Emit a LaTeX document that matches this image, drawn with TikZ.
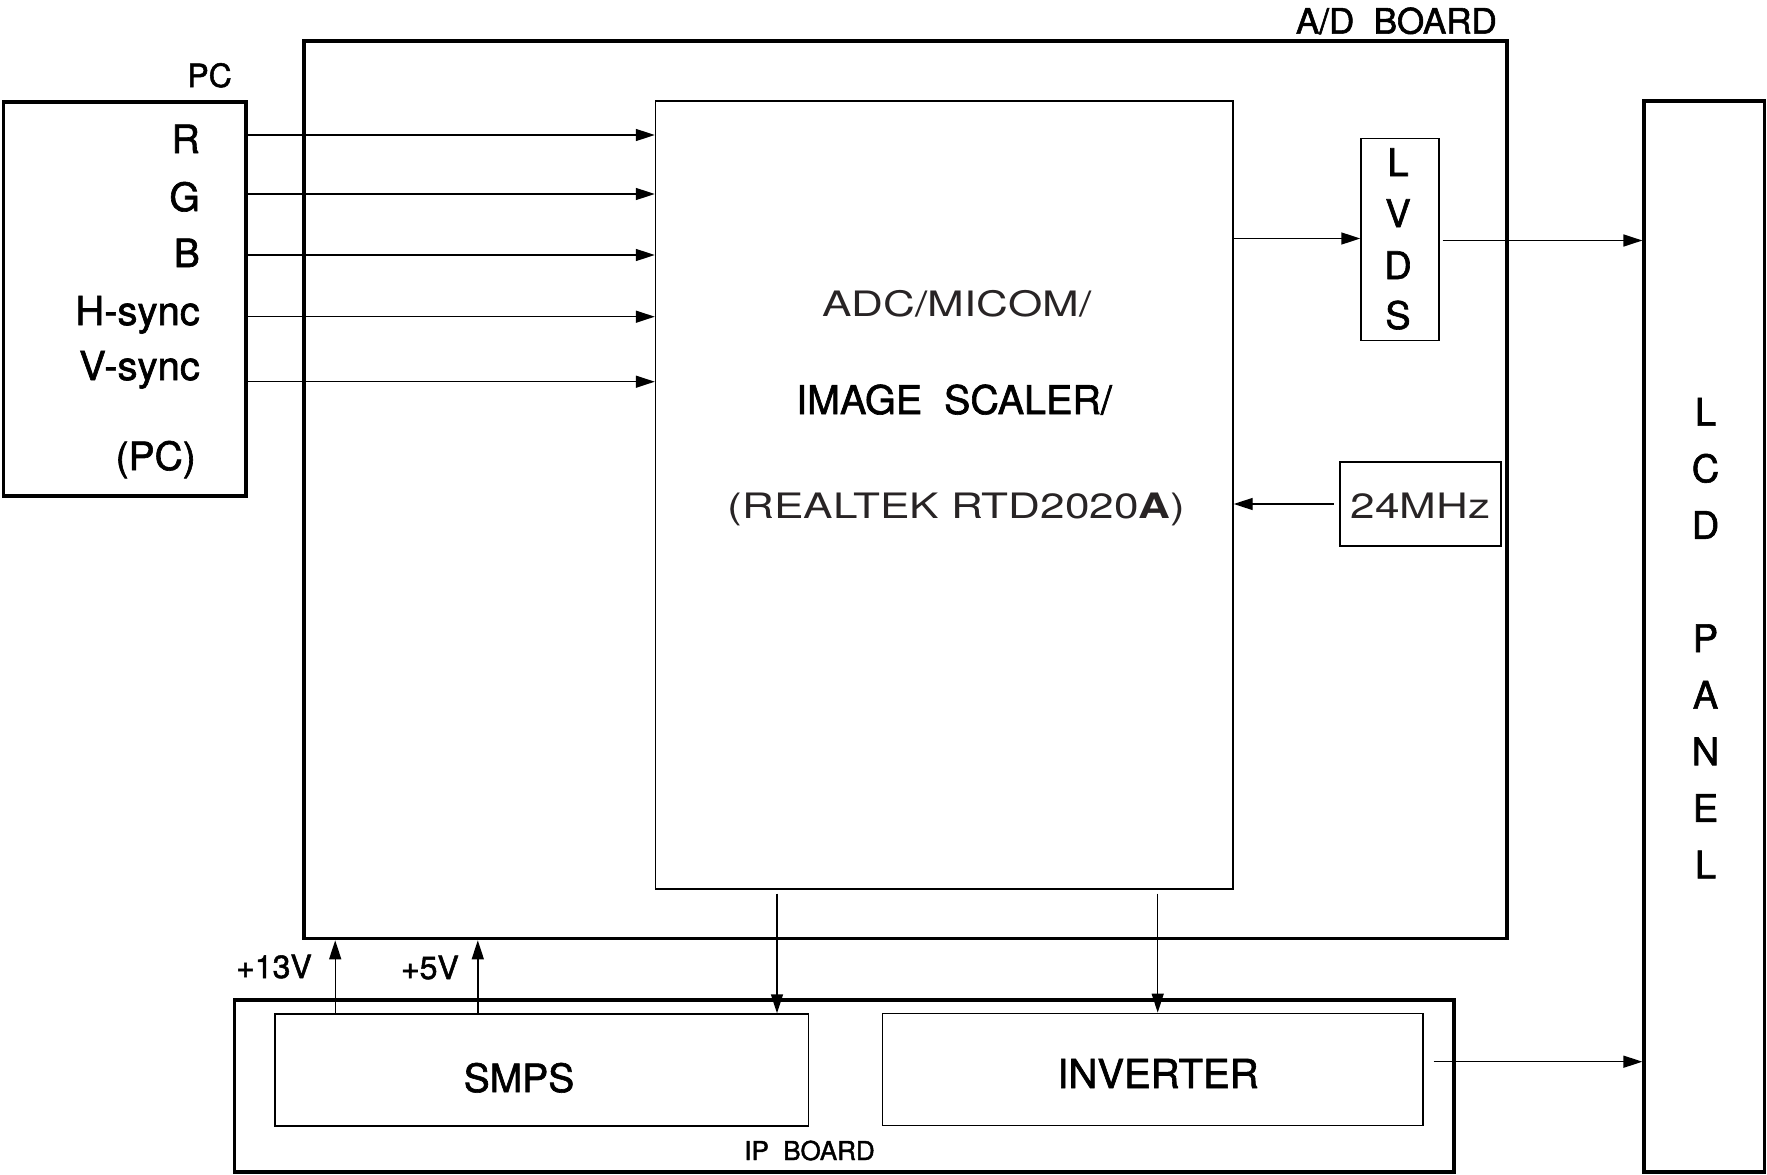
\documentclass[tikz,border=0pt]{standalone}
\usepackage{fontspec}
\setmainfont[FakeBold=1.6]{TeX Gyre Heros}
\newfontfamily\thinfont[FakeStretch=1.26]{TeX Gyre Heros}
\usetikzlibrary{arrows.meta}
\definecolor{txtgray}{RGB}{40,36,37}
\tikzset{
  boardbox/.style={draw, line width=3.2pt, inner sep=0pt},
  chipbox/.style={draw, line width=1.4pt, inner sep=0pt},
  xtalbox/.style={draw, line width=2.2pt, inner sep=0pt},
  conn/.style={line width=1.4pt, -{Triangle[length=19pt,width=12pt]}},
  lbl/.style={inner sep=0pt, font=\fontsize{39}{39}\selectfont},
  small/.style={inner sep=0pt, font=\fontsize{32}{32}\selectfont},
  thin/.style={inner sep=0pt, text=txtgray, font=\thinfont\fontsize{35}{35}\selectfont},
  letter/.style={inner sep=0pt, anchor=base, font=\fontsize{38}{38}\selectfont},
}
\begin{document}
\begin{tikzpicture}[x=1pt,y=-1pt]
\useasboundingbox (0,0) rectangle (1767,1175);

% boxes
\node[boardbox, minimum width=242.5pt, minimum height=394pt] (pc) at (124.75,299) {};
\node[boardbox, minimum width=1203pt, minimum height=897.7pt] (ad) at (905.5,489.85) {};
\node[chipbox, minimum width=577.5pt, minimum height=788pt] (ic) at (944.25,495) {};
\node[chipbox, minimum width=78pt, minimum height=202pt] (lvds) at (1400,239.5) {};
\node[xtalbox, minimum width=161pt, minimum height=84pt] (xtal) at (1420.5,504) {};
\node[boardbox, minimum width=120.5pt, minimum height=1071pt] (lcd) at (1704.25,636.5) {};
\node[boardbox, minimum width=1219.5pt, minimum height=172pt] (ip) at (844.25,1086) {};
\node[chipbox, minimum width=533.5pt, minimum height=112pt] (smps) at (541.75,1070) {};
\node[chipbox, minimum width=540.6pt, minimum height=112pt] (inv) at (1152.7,1069.3) {};

% labels
\node[small, anchor=base east] (pclbl) at (232,87) {PC};
\node[lbl, anchor=base east] (lr) at (200,153) {R};
\node[lbl, anchor=base east] (lg) at (200,211) {G};
\node[lbl, anchor=base east] (lb) at (200,267) {B};
\node[lbl, anchor=base east, font=\fontsize{40}{40}\selectfont] (lh) at (200,325) {H-sync};
\node[lbl, anchor=base east, font=\fontsize{40}{40}\selectfont] (lv) at (200,380) {V-sync};
\node[lbl, anchor=base east] (lpc) at (196,470) {(PC)};
\node[inner sep=0pt, anchor=base east, font=\fontsize{35}{35}\selectfont] (adlbl) at (1497,33.6) {A/D~~BOARD};

\node[thin, anchor=base] (t1) at (957,316.7) {ADC/MICOM/};
\node[inner sep=0pt, anchor=base, font=\fontsize{39.5}{39.5}\selectfont] (t2) at (954,414) {IMAGE~~SCALER/};
\node[thin, anchor=base] (t3) at (956.5,518) {(REALTEK RTD2020{\bfseries A})};
\node[thin, anchor=base] (t4) at (1420.5,518) {24MHz};

\node[letter] (lv1) at (1398,176) {L};
\node[letter] (lv2) at (1398,227) {V};
\node[letter] (lv3) at (1398,279) {D};
\node[letter] (lv4) at (1398,329) {S};

\node[letter] (lc1) at (1705.5,425.6) {L};
\node[letter] (lc2) at (1705.5,482.2) {C};
\node[letter] (lc3) at (1705.5,538.8) {D};
\node[letter] (lc4) at (1705.5,652) {P};
\node[letter] (lc5) at (1705.5,708.6) {A};
\node[letter] (lc6) at (1705.5,765.2) {N};
\node[letter] (lc7) at (1705.5,821.8) {E};
\node[letter] (lc8) at (1705.5,878.4) {L};

\node[small, anchor=base east] (v13) at (312,978) {+13V};
\node[small, anchor=base east] (v5) at (459,979) {+5V};
\node[lbl, anchor=base] (smpslbl) at (519,1092) {SMPS};
\node[inner sep=0pt, anchor=base, font=\fontsize{40}{40}\selectfont] (invlbl) at (1158,1088) {INVERTER};
\node[inner sep=0pt, anchor=base, font=\fontsize{26}{26}\selectfont] (iplbl) at (809.5,1160) {IP~~BOARD};

% connector coordinates
\coordinate (yR) at (0,135);
\coordinate (yG) at (0,194);
\coordinate (yB) at (0,255);
\coordinate (yH) at (0,316.7);
\coordinate (yV) at (0,381.7);
\coordinate (yL1) at (0,238.5);
\coordinate (yL2) at (0,240.5);
\coordinate (yX) at (0,504);
\coordinate (yI) at (0,1061.7);
\coordinate (x13) at (335.2,0);
\coordinate (x5) at (477.8,0);
\coordinate (xd1) at (777,0);
\coordinate (xd2) at (1157.7,0);

\foreach \c in {yR,yG,yB,yH,yV}
  \draw[conn] (pc.east |- \c) -- (ic.west |- \c);
\draw[conn] (ic.east |- yL1) -- (lvds.west |- yL1);
\draw[conn, shorten <=3pt] (lvds.east |- yL2) -- (lcd.west |- yL2);
\draw[conn, shorten <=5pt] (xtal.west |- yX) -- (ic.east |- yX);
\draw[conn] (smps.north -| x13) -- (ad.south -| x13);
\draw[conn] (smps.north -| x5) -- (ad.south -| x5);
\draw[conn, shorten <=4pt] (ic.south -| xd1) -- (smps.north -| xd1);
\draw[conn, shorten <=4pt] (ic.south -| xd2) -- (inv.north -| xd2);
\draw[conn, shorten <=10pt] (inv.east |- yI) -- (lcd.west |- yI);
\end{tikzpicture}
\end{document}
